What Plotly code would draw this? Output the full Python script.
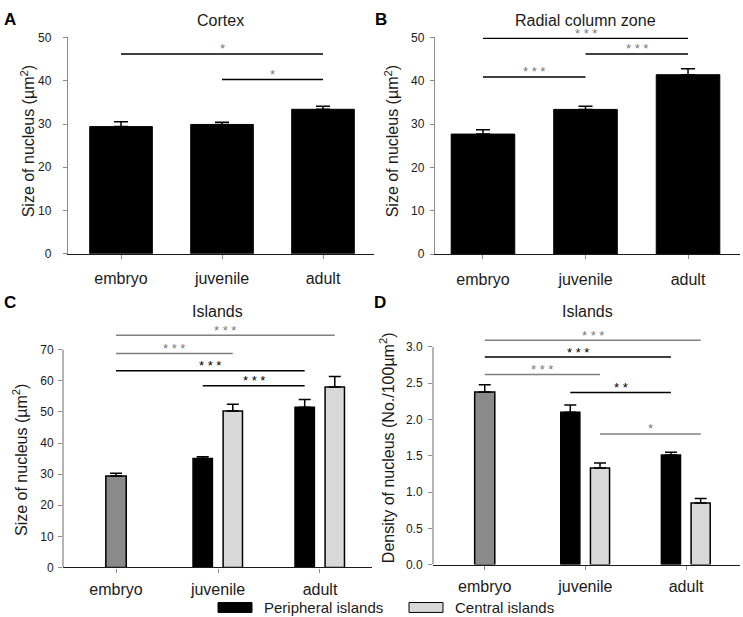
import plotly.graph_objects as go

W, H = 743, 617
FONT = "Liberation Sans, Arial, sans-serif"

categories = ["embryo", "juvenile", "adult"]

# Panel A: Cortex
cortex_mean = [29.4, 29.9, 33.4]
cortex_sem = [1.1, 0.5, 0.7]

# Panel B: Radial column zone
radial_mean = [27.7, 33.4, 41.4]
radial_sem = [1.0, 0.7, 1.4]

# Panel C: Islands, size of nucleus
size_embryo_cat = ["embryo"]
size_embryo_mean = [29.4]
size_embryo_sem = [0.9]
island_cats = ["juvenile", "adult"]
size_peripheral_mean = [35.0, 51.5]
size_peripheral_sem = [0.6, 2.5]
size_central_mean = [50.3, 58.0]
size_central_sem = [2.2, 3.4]

# Panel D: Islands, density of nucleus
dens_embryo_mean = [2.38]
dens_embryo_sem = [0.10]
dens_peripheral_mean = [2.10, 1.51]
dens_peripheral_sem = [0.10, 0.04]
dens_central_mean = [1.33, 0.85]
dens_central_sem = [0.07, 0.06]

series_names = ["Peripheral islands", "Central islands"]

# significance comparisons: (from category, from series, to category, to series, y, label, tone)
sig_cortex = [
    ("embryo", "all", "adult", "all", 46.2, "*", "dark"),
    ("juvenile", "all", "adult", "all", 40.3, "*", "dark"),
]
sig_radial = [
    ("embryo", "all", "adult", "all", 49.8, "***", "dark"),
    ("juvenile", "all", "adult", "all", 46.2, "***", "dark"),
    ("embryo", "all", "juvenile", "all", 40.9, "***", "dark"),
]
sig_size = [
    ("embryo", "all", "adult", "central", 74.7, "***", "gray"),
    ("embryo", "all", "juvenile", "central", 68.8, "***", "gray"),
    ("embryo", "all", "adult", "peripheral", 63.3, "***", "black"),
    ("juvenile", "peripheral", "adult", "peripheral", 58.4, "***", "black"),
]
sig_dens = [
    ("embryo", "all", "adult", "central", 3.09, "***", "gray"),
    ("embryo", "all", "adult", "peripheral", 2.86, "***", "black"),
    ("embryo", "all", "juvenile", "central", 2.62, "***", "gray"),
    ("juvenile", "peripheral", "adult", "peripheral", 2.37, "**", "black"),
    ("juvenile", "central", "adult", "central", 1.80, "*", "gray"),
]

# ---- styling ----
BLACK = "#000000"
EMBRYO_GRAY = "#8a8a8a"
LIGHT = "#d9d9d9"
AXIS_GRAY = "#8c8c8c"
STAR_GRAY = "#7a7a7a"
LINE_GRAY = "#808080"

OFFSET = {"all": 0.0, "peripheral": -0.15, "central": 0.145}
GROUP_W = 0.19

# the page is photographed with an effective plot height of about 609 px
H_EFF = 609.3
Y_OFF = 0.75


def px_x(p):
    return p / W


def px_y(p):
    return 1 - (p + Y_OFF) / H_EFF


def err(sem):
    return dict(type="data", array=sem, arrayminus=[0] * len(sem), symmetric=False,
                color=BLACK, thickness=1.5, width=6)


fig = go.Figure()

# Panel A
fig.add_trace(go.Bar(x=categories, y=cortex_mean, width=0.62, offset=-0.31,
                     marker=dict(color=BLACK, line=dict(color=BLACK, width=1)),
                     error_y=dict(err(cortex_sem), width=7), xaxis="x", yaxis="y", showlegend=False))
# Panel B
fig.add_trace(go.Bar(x=categories, y=radial_mean, width=0.62, offset=-0.31,
                     marker=dict(color=BLACK, line=dict(color=BLACK, width=1)),
                     error_y=dict(err(radial_sem), width=7), xaxis="x2", yaxis="y2", showlegend=False))

# Panels C and D
for (xa, ya, emb_m, emb_s, per_m, per_s, cen_m, cen_s) in [
    ("x3", "y3", size_embryo_mean, size_embryo_sem, size_peripheral_mean, size_peripheral_sem,
     size_central_mean, size_central_sem),
    ("x4", "y4", dens_embryo_mean, dens_embryo_sem, dens_peripheral_mean, dens_peripheral_sem,
     dens_central_mean, dens_central_sem),
]:
    fig.add_trace(go.Bar(x=size_embryo_cat, y=emb_m, width=0.2, offset=-0.1,
                         marker=dict(color=EMBRYO_GRAY, line=dict(color=BLACK, width=1.5)),
                         error_y=err(emb_s), xaxis=xa, yaxis=ya, showlegend=False))
    fig.add_trace(go.Bar(x=island_cats, y=per_m, width=GROUP_W,
                         offset=OFFSET["peripheral"] - GROUP_W / 2, name=series_names[0],
                         marker=dict(color=BLACK, line=dict(color=BLACK, width=1.5)),
                         error_y=err(per_s), xaxis=xa, yaxis=ya, showlegend=False))
    fig.add_trace(go.Bar(x=island_cats, y=cen_m, width=GROUP_W,
                         offset=OFFSET["central"] - GROUP_W / 2, name=series_names[1],
                         marker=dict(color=LIGHT, line=dict(color=BLACK, width=1.5)),
                         error_y=err(cen_s), xaxis=xa, yaxis=ya, showlegend=False))

shapes = []
annotations = []


def xpos(cat, series):
    return categories.index(cat) + OFFSET[series]


tone_line = {"dark": BLACK, "black": BLACK, "gray": LINE_GRAY}
tone_star = {"dark": STAR_GRAY, "black": BLACK, "gray": STAR_GRAY}

for xa, ya, sigs in [("x", "y", sig_cortex), ("x2", "y2", sig_radial),
                     ("x3", "y3", sig_size), ("x4", "y4", sig_dens)]:
    for c0, s0, c1, s1, yv, lab, tone in sigs:
        x0, x1 = xpos(c0, s0), xpos(c1, s1)
        shapes.append(dict(type="line", xref=xa, yref=ya, x0=x0, x1=x1, y0=yv, y1=yv,
                           line=dict(color=tone_line[tone], width=1.5)))
        annotations.append(dict(xref=xa, yref=ya, x=(x0 + x1) / 2, y=yv, text=" ".join(lab),
                                showarrow=False, yanchor="middle", yshift=5,
                                font=dict(family=FONT, size=13, color=tone_star[tone])))

# panel geometry (pixels in the reference) and label standoffs
panels = {
    "A": dict(x=(68, 373.5), y=(248.7, 30), xr=[-0.525, 2.5], yr=[0, 50], xs=6, ys=9),
    "B": dict(x=(435, 740), y=(249, 30), xr=[-0.468, 2.507], yr=[0, 50], xs=6, ys=3),
    "C": dict(x=(63, 372), y=(565.5, 320.5), xr=[-0.52, 2.51], yr=[0, 78], xs=3, ys=2),
    "D": dict(x=(433, 740), y=(562.7, 320.7), xr=[-0.514, 2.536], yr=[0, 3.3], xs=3, ys=3),
}
ytick_vals = {
    "A": list(range(0, 51, 10)),
    "B": list(range(0, 51, 10)),
    "C": list(range(0, 71, 10)),
    "D": [0, 0.5, 1.0, 1.5, 2.0, 2.5, 3.0],
}

layout_axes = {}
for i, key in enumerate(["A", "B", "C", "D"]):
    p = panels[key]
    suffix = "" if i == 0 else str(i + 1)
    layout_axes["xaxis" + suffix] = dict(
        domain=[px_x(p["x"][0]), px_x(p["x"][1])], range=p["xr"], anchor="y" + suffix,
        type="category", categoryorder="array", categoryarray=categories,
        showline=True, linecolor="#1a1a1a", linewidth=1.3, ticks="outside", ticklen=4,
        tickcolor=AXIS_GRAY, tickwidth=1, showgrid=False, zeroline=False,
        tickfont=dict(family=FONT, size=16, color="#1a1a1a"), ticklabelstandoff=p["xs"])
    yt = ytick_vals[key]
    layout_axes["yaxis" + suffix] = dict(
        domain=[px_y(p["y"][0]), px_y(p["y"][1])], range=p["yr"], anchor="x" + suffix,
        showline=key in ("A", "B"), linecolor=AXIS_GRAY, linewidth=1.3,
        ticks="outside", ticklen=4, tickcolor=AXIS_GRAY, tickwidth=1,
        tickvals=yt, ticktext=[("%.1f" % v) if key == "D" else str(v) for v in yt],
        showgrid=False, zeroline=False, ticklabelstandoff=p["ys"],
        tickfont=dict(family=FONT, size=12, color="#1a1a1a"))
    if key in ("C", "D"):
        shapes.append(dict(type="line", xref="x%s domain" % suffix, yref="y" + suffix,
                           x0=0, x1=0, y0=0, y1=yt[-1],
                           line=dict(color=AXIS_GRAY, width=1.3)))

# titles
titles = [("Cortex", 220, 13), ("Radial column zone", 585, 13),
          ("Islands", 218, 307), ("Islands", 587, 307)]
for t, x, y in titles:
    annotations.append(dict(xref="paper", yref="paper", x=px_x(x), y=px_y(y), text=t,
                            showarrow=False, xanchor="center", yanchor="middle",
                            font=dict(family=FONT, size=16, color="#1a1a1a")))

ytitles = [("Size of nucleus (µm<sup>2</sup>)", 28, 135),
           ("Size of nucleus (µm<sup>2</sup>)", 392, 135),
           ("Size of nucleus (µm<sup>2</sup>)", 20, 457),
           ("Density of nucleus (No./100µm<sup>2</sup>)", 387, 444)]
for t, x, y in ytitles:
    annotations.append(dict(xref="paper", yref="paper", x=px_x(x), y=px_y(y), text=t,
                            showarrow=False, textangle=-90, xanchor="center", yanchor="middle",
                            font=dict(family=FONT, size=16, color="#1a1a1a")))

for lab, x, y in [("A", 10, 12), ("B", 381, 12), ("C", 10, 298), ("D", 380, 298)]:
    annotations.append(dict(xref="paper", yref="paper", x=px_x(x), y=px_y(y), text="<b>%s</b>" % lab,
                            showarrow=False, xanchor="center", yanchor="middle",
                            font=dict(family=FONT, size=17, color=BLACK)))

# custom legend
for name, color, bx in [(series_names[0], BLACK, 218), (series_names[1], LIGHT, 409)]:
    shapes.append(dict(type="rect", xref="paper", yref="paper",
                       x0=px_x(bx), x1=px_x(bx + 34), y0=px_y(611), y1=px_y(601),
                       fillcolor=color, line=dict(color=BLACK, width=1)))
    annotations.append(dict(xref="paper", yref="paper", x=px_x(bx + 44), y=px_y(606), text=name,
                            showarrow=False, xanchor="left", yanchor="middle",
                            font=dict(family=FONT, size=15, color="#1a1a1a")))

fig.update_layout(
    width=W, height=H, margin=dict(l=0, r=0, t=0, b=0),
    paper_bgcolor="white", plot_bgcolor="white",
    barmode="overlay", showlegend=False,
    shapes=shapes, annotations=annotations,
    font=dict(family=FONT),
    **layout_axes,
)

fig.write_html("out.html", config={"displayModeBar": False},
               post_script="document.body.style.margin='0px';document.body.style.overflow='hidden';")
